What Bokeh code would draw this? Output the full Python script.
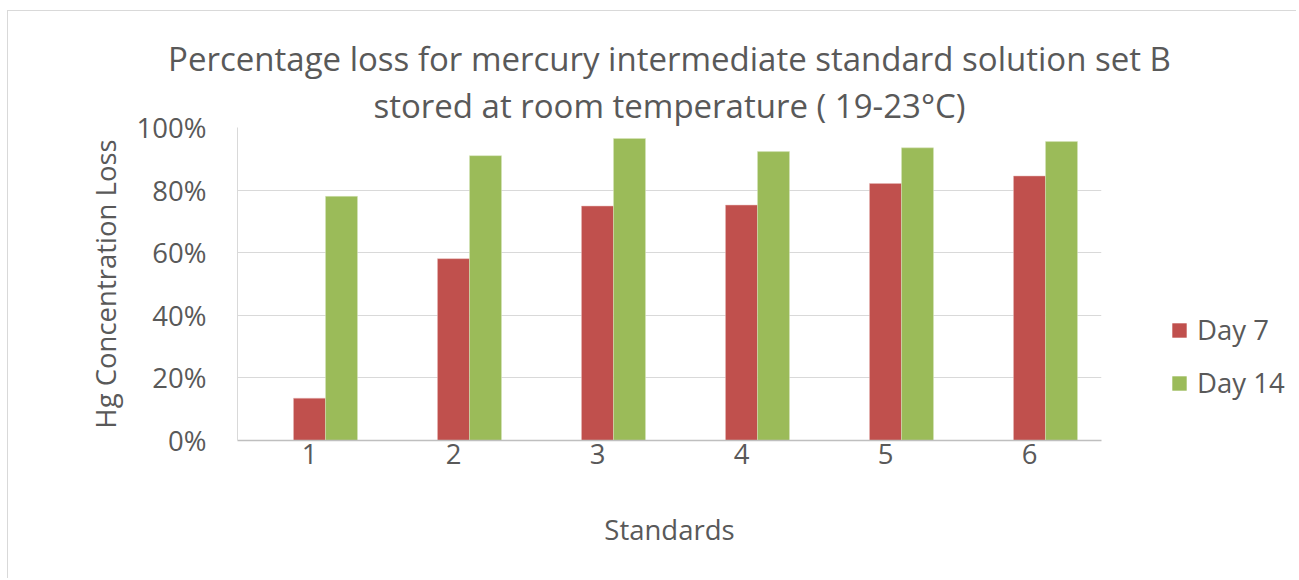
from bokeh.plotting import figure
from bokeh.layouts import row
from bokeh.models import ColumnDataSource, Legend, LegendItem, FixedTicker, Range1d, CustomJSTickFormatter, Title
from bokeh.embed import file_html
from bokeh.resources import INLINE

standards = [1, 2, 3, 4, 5, 6]
day7 = [13.5, 58.1, 74.9, 75.2, 82.1, 84.5]
day14 = [78.0, 91.0, 96.5, 92.3, 93.5, 95.5]
series_names = ["Day 7", "Day 14"]
series_colors = ["#c0504d", "#9bbb59"]
y_ticks = [0, 20, 40, 60, 80, 100]
title_lines = ["Percentage loss for mercury intermediate standard solution set B",
               "stored at room temperature ( 19-23°C)"]

FONT = "Open Sans"
TXT = "#595959"
BW = 0.2222
BORDER = "1px solid #d9d9d9"
MB_TOP, MB_BOTTOM = 116, 139

src = ColumnDataSource(dict(x=standards, d7=day7, d14=day14,
                            x14=[s + BW for s in standards]))

p = figure(width=1163, height=568, output_backend="svg", toolbar_location=None,
           x_range=Range1d(0.5, 6.5), y_range=Range1d(0, 100),
           min_border_left=229, min_border_right=70, min_border_top=MB_TOP, min_border_bottom=MB_BOTTOM)
p.margin = (10, 0, 0, 7)
p.styles = {"border-left": BORDER, "border-top": BORDER}
p.outline_line_color = None

p.vbar(x="x", top="d7", width=BW, source=src, fill_color=series_colors[0], line_color="#e6b8b7", line_width=0.5)
p.vbar(x="x14", top="d14", width=BW, source=src, fill_color=series_colors[1], line_color="#d7e4bd", line_width=0.5)

for txt in reversed(title_lines):
    t = Title(text=txt, align="center", text_font=FONT, text_font_size="33px",
              text_font_style="normal", text_color=TXT, standoff=0)
    p.add_layout(t, "above")

p.xgrid.grid_line_color = None
p.ygrid.grid_line_color = "#d9d9d9"
p.ygrid.grid_line_width = 1

p.yaxis.ticker = FixedTicker(ticks=y_ticks)
p.yaxis.formatter = CustomJSTickFormatter(code="return tick.toFixed(0) + '%';")
p.xaxis.ticker = FixedTicker(ticks=standards)

for ax in (p.xaxis[0], p.yaxis[0]):
    ax.major_tick_line_color = None
    ax.minor_tick_line_color = None
    ax.major_label_text_font = FONT
    ax.major_label_text_font_size = "27.5px"
    ax.major_label_text_color = TXT
    ax.axis_label_text_font = FONT
    ax.axis_label_text_font_size = "27.5px"
    ax.axis_label_text_color = TXT
    ax.axis_label_text_font_style = "normal"

p.yaxis.axis_line_color = "#d9d9d9"
p.xaxis.axis_line_color = "#bfbfbf"
p.xaxis.axis_line_width = 1.5
p.yaxis.major_label_standoff = 25
p.xaxis.major_label_standoff = -3
p.yaxis.axis_label = "Hg Concentration Loss"
p.xaxis.axis_label = "Standards"
p.yaxis.axis_label_standoff = 10
p.xaxis.axis_label_standoff = 44

# legend panel (right of the chart)
pl = figure(width=126, height=568, output_backend="svg", toolbar_location=None,
            x_range=Range1d(0, 1), y_range=Range1d(0, 1),
            x_axis_location=None, y_axis_location=None,
            min_border_left=0, min_border_right=0, min_border_top=MB_TOP, min_border_bottom=MB_BOTTOM)
pl.margin = (10, 0, 0, 0)
pl.styles = {"border-top": BORDER}
pl.outline_line_color = None
pl.xgrid.visible = False
pl.ygrid.visible = False
pl.background_fill_color = None
items = []
for name, col in zip(series_names, series_colors):
    r = pl.vbar(x=[0], top=[0], width=0.001, fill_color=col, line_color=None)
    items.append(LegendItem(label=name, renderers=[r]))

legend = Legend(items=items, location=(0, 39), orientation="vertical")
legend.border_line_color = None
legend.background_fill_alpha = 0
legend.padding = 0
legend.margin = 0
legend.glyph_width = 18
legend.glyph_height = 18
legend.label_height = 34
legend.spacing = 16
legend.label_standoff = 9
legend.label_text_font = FONT
legend.label_text_font_size = "27.5px"
legend.label_text_color = TXT
pl.add_layout(legend, "center")

layout = row(p, pl)
open("out.html", "w").write(file_html(layout, INLINE))
